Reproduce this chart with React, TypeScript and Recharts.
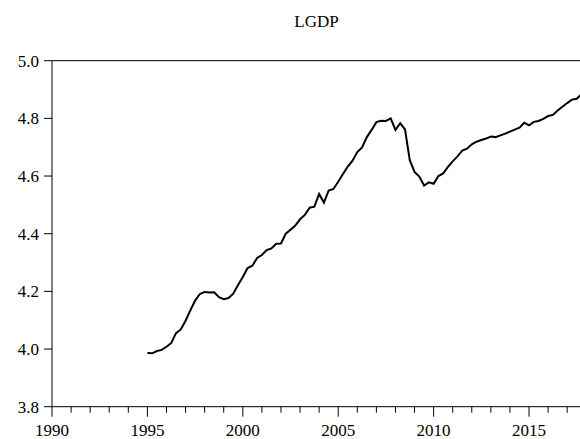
import { LineChart, Line, XAxis, YAxis, ReferenceLine } from "recharts";

// quarterly observations, 1995Q1 .. 2017Q4
const startYear = 1995;
const lgdp = [
  3.986, 3.985, 3.993, 3.997, 4.008, 4.021, 4.055, 4.068,
  4.098, 4.134, 4.168, 4.191, 4.198, 4.196, 4.197, 4.18,
  4.173, 4.177, 4.192, 4.222, 4.25, 4.281, 4.289, 4.316,
  4.326, 4.343, 4.349, 4.365, 4.366, 4.4, 4.414, 4.428,
  4.45, 4.465, 4.49, 4.494, 4.538, 4.508, 4.55, 4.555,
  4.58, 4.607, 4.633, 4.653, 4.683, 4.699, 4.735, 4.76,
  4.787, 4.792, 4.791, 4.8, 4.76, 4.783, 4.762, 4.655,
  4.614, 4.598, 4.567, 4.578, 4.573, 4.6, 4.609, 4.632,
  4.651, 4.668, 4.688, 4.695, 4.71, 4.719, 4.725, 4.73,
  4.737, 4.735, 4.741, 4.747, 4.754, 4.761, 4.768, 4.785,
  4.776, 4.788, 4.791, 4.798, 4.808, 4.812, 4.827, 4.84,
  4.853, 4.865, 4.868, 4.884,
];

const yTicks = [3.8, 4.0, 4.2, 4.4, 4.6, 4.8, 5.0];
const xTicks = Array.from({ length: 28 }, (_, i) => 1990 + i);
const xEnd = 2017.75;

const data = lgdp.map((v, i) => ({ t: startYear + i / 4, v }));

const font = '"Liberation Serif", "Times New Roman", serif';

const XTick = (props: any) => {
  const { x, y, payload } = props;
  const major = payload.value % 5 === 0;
  return (
    <g>
      <line x1={x} x2={x} y1={y} y2={y + (major ? 10 : 6)} stroke="#000" strokeWidth={1} />
      {major && (
        <text x={x} y={y + 29} textAnchor="middle" fontSize={17} fontFamily={font} fill="#000">
          {payload.value}
        </text>
      )}
    </g>
  );
};

export default function App() {
  return (
    <div style={{ position: "absolute", left: 0, top: 0, width: 580, height: 439, overflow: "hidden", background: "#fff" }}>
      <div
        style={{
          position: "absolute",
          left: 216.5,
          width: 200,
          top: 12,
          textAlign: "center",
          fontFamily: font,
          fontSize: 17,
          color: "#000",
        }}
      >
        LGDP
      </div>
      <LineChart width={582} height={439} data={data} margin={{ top: 60.7, right: 0.5, bottom: 0, left: 0 }}>
        <XAxis
          dataKey="t"
          type="number"
          domain={[1990, xEnd]}
          ticks={xTicks}
          interval={0}
          allowDataOverflow
          height={32.3}
          tickSize={0}
          tickMargin={0}
          tickLine={false}
          axisLine={{ stroke: "#000", strokeWidth: 1 }}
          tick={<XTick />}
        />
        <YAxis
          type="number"
          domain={[3.8, 5.0]}
          ticks={yTicks}
          interval={0}
          width={52}
          tickSize={8}
          tickMargin={5}
          tickFormatter={(v: number) => v.toFixed(1)}
          axisLine={{ stroke: "#000", strokeWidth: 1 }}
          tickLine={{ stroke: "#000", strokeWidth: 1 }}
          tick={{ fill: "#000", fontSize: 17, fontFamily: font }}
        />
        <ReferenceLine y={5.0} stroke="#000" strokeWidth={1} />
        <ReferenceLine x={xEnd} stroke="#000" strokeWidth={1} />
        <Line
          dataKey="v"
          type="linear"
          stroke="#000"
          strokeWidth={2}
          dot={false}
          isAnimationActive={false}
        />
      </LineChart>
    </div>
  );
}
